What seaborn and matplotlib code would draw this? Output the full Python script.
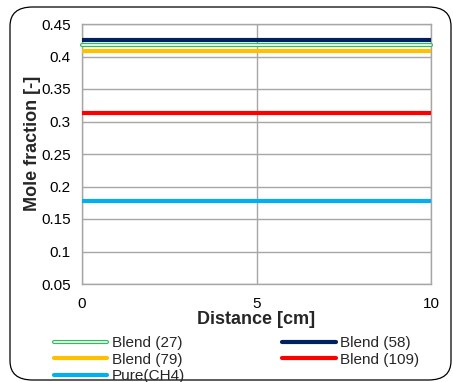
import matplotlib
matplotlib.use("Agg")
import matplotlib.pyplot as plt
import matplotlib.patheffects as pe
from matplotlib.patches import FancyBboxPatch
from matplotlib.lines import Line2D
import seaborn as sns
import pandas as pd

sns.set_style("white")
plt.rcParams['font.family'] = ['Liberation Sans', 'DejaVu Sans']

# Data
series_names = ["Blend (27)", "Blend (58)", "Blend (79)", "Blend (109)", "Pure(CH4)"]
distance = [0, 10]
values = {
    "Blend (27)": [0.417, 0.417],
    "Blend (58)": [0.425, 0.425],
    "Blend (79)": [0.408, 0.408],
    "Blend (109)": [0.3125, 0.3125],
    "Pure(CH4)": [0.178, 0.178],
}
colors = {
    "Blend (27)": "#2DBE5A",
    "Blend (58)": "#002060",
    "Blend (79)": "#FFC000",
    "Blend (109)": "#FF0000",
    "Pure(CH4)": "#00B0F0",
}
x_ticks = [0, 5, 10]
y_ticks = [0.05, 0.1, 0.15, 0.2, 0.25, 0.3, 0.35, 0.4, 0.45]

rows = []
for s in series_names:
    for d, v in zip(distance, values[s]):
        rows.append({"Distance": d, "Value": v, "Series": s})
df = pd.DataFrame(rows)

fig = plt.figure(figsize=(4.53, 3.82), dpi=100)
W, H = 453, 382
ax = fig.add_axes([82 / W, 1 - 284 / H, (431 - 82) / W, (284 - 24) / H])

# rounded border
x0, y0, x1, y1 = 10, 7, 451, 380
border = FancyBboxPatch((x0 / W, 1 - y1 / H), (x1 - x0) / W, (y1 - y0) / H,
                        boxstyle="round,pad=0,rounding_size=0.05",
                        transform=fig.transFigure, fill=False, edgecolor="black",
                        linewidth=0.9, clip_on=False, zorder=0)
fig.patches.append(border)

draw_order = ["Pure(CH4)", "Blend (109)", "Blend (79)", "Blend (27)", "Blend (58)"]
for s in draw_order:
    sub = df[df["Series"] == s]
    if s == "Blend (27)":
        sns.lineplot(data=sub, x="Distance", y="Value", ax=ax, color=colors[s],
                     linewidth=3.0, clip_on=False, zorder=3)
        sns.lineplot(data=sub, x="Distance", y="Value", ax=ax, color="white",
                     linewidth=1.2, clip_on=False, zorder=3.1)
    else:
        sns.lineplot(data=sub, x="Distance", y="Value", ax=ax, color=colors[s],
                     linewidth=3.0, solid_capstyle="round", zorder=3)

ax.set_xlim(0, 10)
ax.set_ylim(0.05, 0.45)
ax.set_xticks(x_ticks)
ax.set_yticks(y_ticks)
ax.set_xticklabels([str(t) for t in x_ticks])
ax.set_yticklabels([f"{t:g}" for t in y_ticks])
ax.grid(True, color="#A6A6A6", linewidth=1.0)
ax.set_axisbelow(True)
for sp in ax.spines.values():
    sp.set_color("#A6A6A6")
    sp.set_linewidth(1.0)
ax.tick_params(axis="y", labelsize=11, length=0, colors="black", pad=8)
ax.tick_params(axis="x", labelsize=11, length=0, colors="black", pad=9)
ax.set_xlabel("Distance [cm]", fontsize=13, fontweight="bold")
ax.set_ylabel("Mole fraction [-]", fontsize=13, fontweight="bold")
ax.xaxis.set_label_coords(0.5, -(320 - 284) / 260, transform=ax.transAxes)
ax.xaxis.label.set_va("center")
ax.yaxis.set_label_coords((33 - 82) / 349, (284 - 143) / 260, transform=ax.transAxes)
ax.yaxis.label.set_va("center")

# legend
def handle(s):
    if s == "Blend (27)":
        return Line2D([], [], color="white", linewidth=1.2,
                      path_effects=[pe.Stroke(linewidth=3.0, foreground=colors[s]), pe.Normal()])
    return Line2D([], [], color=colors[s], linewidth=3.0, solid_capstyle="round")

order = ["Blend (27)", "Blend (79)", "Pure(CH4)", "Blend (58)", "Blend (109)"]
fig.legend([handle(s) for s in order], order, ncol=2, loc="upper left",
           bbox_to_anchor=(54 / W, 1 - 336 / H), frameon=False, fontsize=11,
           handlelength=3.5, handletextpad=0.3, columnspacing=6.35,
           labelspacing=0.17, borderaxespad=0, borderpad=0)

fig.savefig("out.png", dpi=100)
